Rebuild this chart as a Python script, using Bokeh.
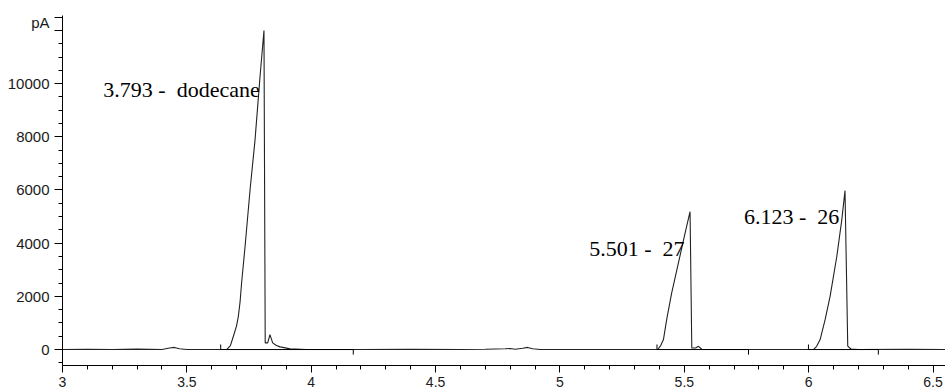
from bokeh.plotting import figure
from bokeh.models import Range1d, SingleIntervalTicker, FixedTicker, NumeralTickFormatter, ColumnDataSource
from bokeh.core.properties import value
from bokeh.embed import file_html
from bokeh.resources import INLINE

# ---- data ----
time_min = [3.00, 3.10, 3.20, 3.30, 3.40, 3.43, 3.45, 3.47, 3.50, 3.60, 3.636, 3.66,
            3.675, 3.687, 3.700, 3.707, 3.714, 3.720, 3.734, 3.754, 3.774, 3.794, 3.810,
            3.815, 3.825, 3.834, 3.845, 3.860, 3.875, 3.915, 3.980, 4.20, 4.40, 4.60,
            4.70, 4.78, 4.80, 4.82, 4.85, 4.87, 4.89, 4.92, 5.20, 5.393, 5.405, 5.416,
            5.429, 5.449, 5.476, 5.503, 5.523, 5.530, 5.545, 5.557, 5.570, 5.60, 5.90,
            6.019, 6.032, 6.046, 6.066, 6.086, 6.113, 6.133, 6.146, 6.157, 6.170, 6.20,
            6.40, 6.55]
signal_pA = [0, 10, 0, 15, 0, 60, 80, 30, 0, 0, 0, 0,
             150, 500, 900, 1250, 1800, 2500, 3875, 6000, 7875, 10250, 12000,
             250, 250, 560, 250, 150, 100, 25, 0, 0, 10, 0,
             10, 30, 40, 10, 50, 80, 30, 0, 0, 0, 150, 375,
             1125, 2125, 3250, 4375, 5186, 60, 60, 120, 10, 0, 0,
             0, 120, 375, 1125, 2000, 3500, 4875, 5975, 130, 20, 0,
             10, 0]

peak_labels = ["3.793 -\u00a0\u00a0dodecane", "5.501 -\u00a0\u00a027", "6.123 -\u00a0\u00a026"]
peak_rt = [3.793, 5.501, 6.123]
label_y = [9790, 3800, 4990]

integ_start = [3.636, 5.390, 5.999]
integ_end = [4.169, 5.758, 6.280]

y_major_ticks = [0, 2000, 4000, 6000, 8000, 10000, 12000, 12500]
y_minor_ticks = [-500, 500, 1000, 1500, 2500, 3000, 3500, 4500, 5000, 5500, 6500, 7000,
                 7500, 8500, 9000, 9500, 10500, 11000, 11500]
y_tick_labels = {12000: "", 12500: "\npA"}

# ---- figure ----
p = figure(width=945, height=389, output_backend="svg", toolbar_location=None,
           x_range=Range1d(3, 6.55), y_range=Range1d(-600, 12562),
           min_border_left=62, min_border_right=0, min_border_top=15, min_border_bottom=23)
p.outline_line_color = None
p.grid.visible = False
p.background_fill_color = "white"
p.border_fill_color = "white"

# signal
p.line(time_min, signal_pA, line_color="#222222", line_width=1.1)

# integration baselines with start/end ticks
tick_h = 190
p.segment(x0=integ_start, y0=[0] * 3, x1=integ_end, y1=[0] * 3, line_color="black", line_width=1)
p.segment(x0=integ_start, y0=[0] * 3, x1=integ_start, y1=[tick_h] * 3, line_color="black", line_width=1)
p.segment(x0=integ_end, y0=[0] * 3, x1=integ_end, y1=[-tick_h] * 3, line_color="black", line_width=1)

# peak labels
src = ColumnDataSource(dict(x=peak_rt, y=label_y, t=peak_labels))
p.text(x="x", y="y", text="t", source=src, text_font=value("Liberation Serif"),
       text_font_size="22px", text_align="right", text_baseline="alphabetic", text_color="black")

# axes
xa = p.xaxis[0]
xa.ticker = SingleIntervalTicker(interval=0.5, num_minor_ticks=5)
xa.formatter = NumeralTickFormatter(format="0.[0]")
xa.major_tick_out = 7
xa.major_tick_in = 0
xa.minor_tick_out = 4
xa.minor_tick_in = 0
xa.major_label_standoff = 4
xa.major_label_text_line_height = 0.8
xa.major_label_text_font = "Liberation Sans"
xa.major_label_text_font_size = "14px"
xa.major_label_text_color = "#1a1a1a"
xa.axis_line_color = "black"

ya = p.yaxis[0]
ya.ticker = FixedTicker(ticks=y_major_ticks, minor_ticks=y_minor_ticks)
ya.formatter = NumeralTickFormatter(format="0")
ya.major_label_overrides = y_tick_labels
ya.major_tick_out = 8
ya.major_tick_in = 0
ya.minor_tick_out = 4
ya.minor_tick_in = 0
ya.major_label_standoff = 5
ya.major_label_text_line_height = 0.6
ya.major_label_text_font = "Liberation Sans"
ya.major_label_text_font_size = "15px"
ya.major_label_text_color = "#1a1a1a"
ya.axis_line_color = "black"

open("out.html", "w").write(file_html(p, INLINE))
